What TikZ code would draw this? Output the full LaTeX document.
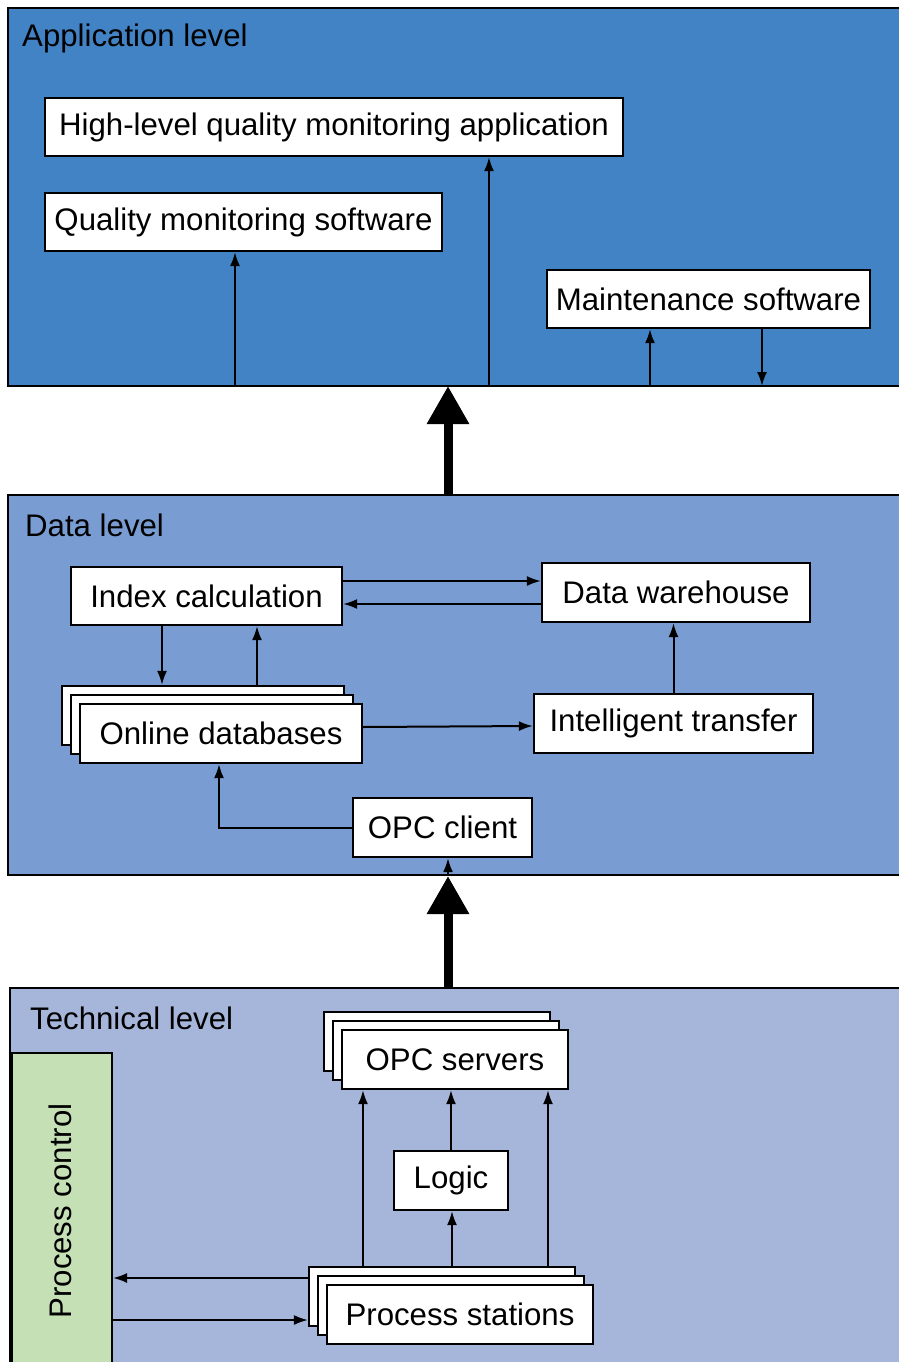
\documentclass[tikz,border=0pt]{standalone}
\usepackage{fontspec}
\setmainfont{Liberation Sans}
\usetikzlibrary{arrows.meta}
\definecolor{appblue}{HTML}{4283C5}
\definecolor{datablue}{HTML}{799DD3}
\definecolor{techblue}{HTML}{A6B6DA}
\definecolor{ctrlgreen}{HTML}{C5E0B4}
\begin{document}
\begin{tikzpicture}[x=1pt,y=-1pt,
  txt/.style={font=\fontsize{31.2}{37}\selectfont},
  box/.style={draw, line width=2.2pt, fill=white, inner sep=0pt, txt},
  panel/.style={draw, line width=2pt},
  lvl/.style={anchor=base west, inner sep=0pt, txt},
  conn/.style={line width=2pt, -{Latex[length=14pt,width=10pt]}},
  bigarrow/.style={line width=9pt, -{Triangle[length=38pt,width=40pt]}}
]
\useasboundingbox (0,0) rectangle (899,1362);

% ---------------- panels ----------------
\draw[panel, fill=appblue]  (8,8)    rectangle (915,386);
\draw[panel, fill=datablue] (8,495)  rectangle (915,875);
\draw[panel, fill=techblue] (10,988) rectangle (915,1380);

\node[lvl] (lapp)  at (22,47)   {Application level};
\node[lvl] (ldata) at (25,536)  {Data level};
\node[lvl] (ltech) at (30,1029) {Technical level};

% ---------------- application level ----------------
\node[box, minimum width=578, minimum height=58] (hl) at (334,127) {High-level quality monitoring application};
\node[box, minimum width=397, minimum height=58] (qm) at (243.5,222) {Quality monitoring software};
\node[box, minimum width=323, minimum height=58] (ms) at (708.5,299) {Maintenance software};

\coordinate (pa1) at (235,386);
\coordinate (pa2) at (489,386);
\coordinate (pa3) at (650,386);
\coordinate (pa4) at (762,386);
\draw[conn] (pa1) -- (pa1 |- qm.south);
\draw[conn] (pa2) -- (pa2 |- hl.south);
\draw[conn] (pa3) -- (pa3 |- ms.south);
\draw[conn] (pa4 |- ms.south) -- (pa4);

% ---------------- data level ----------------
\node[box, minimum width=271, minimum height=58] (ic) at (206.5,596) {Index calculation};
\node[box, minimum width=268, minimum height=59] (dw) at (676,592.5) {Data warehouse};
\node[box, minimum width=282, minimum height=59] (odb3) at (203,715.5) {};
\node[box, minimum width=282, minimum height=59] (odb2) at (212,724.5) {};
\node[box, minimum width=282, minimum height=59] (odb)  at (221,733.5) {Online databases};
\node[box, minimum width=279, minimum height=59] (it) at (673.5,723.5) {Intelligent transfer};
\node[box, minimum width=179, minimum height=59] (opcc) at (442.5,827.5) {OPC client};

\draw[conn] ([yshift=15pt]ic.east) -- ([yshift=15pt]ic.east -| dw.west);
\draw[conn] ([yshift=-11.5pt]dw.west) -- ([yshift=-11.5pt]dw.west -| ic.east);
\draw[conn] ([xshift=-44.5pt]ic.south) -- ([xshift=-44.5pt]ic.south |- odb3.north);
\draw[conn] ([xshift=50.5pt]ic.south |- odb3.north) -- ([xshift=50.5pt]ic.south);
\draw[conn] ([yshift=6.5pt]odb.east) -- ([yshift=-2.5pt]it.west);
\draw[conn] (it.north) -- (it.north |- dw.south);
\draw[conn] (opcc.west) -| ([xshift=-2pt]odb.south);
\coordinate (pb) at (448,875);
\draw[conn] (pb) -- (pb |- opcc.south);

% ---------------- technical level ----------------
\node[draw, line width=2pt, fill=ctrlgreen, minimum width=100, minimum height=327, inner sep=0pt] (pc) at (62,1216.5) {};
\node[txt, rotate=90, inner sep=0pt] (pctext) at (60,1211) {Process control};

\node[box, minimum width=226, minimum height=59] (opcs3) at (437,1041.5) {};
\node[box, minimum width=226, minimum height=59] (opcs2) at (446,1050.5) {};
\node[box, minimum width=226, minimum height=59] (opcs)  at (455,1059.5) {OPC servers};
\node[box, minimum width=114, minimum height=59] (logic) at (451,1180.5) {Logic};
\node[box, minimum width=266, minimum height=59] (ps3) at (442,1296.5) {};
\node[box, minimum width=266, minimum height=59] (ps2) at (451,1305.5) {};
\node[box, minimum width=266, minimum height=59] (ps)  at (460,1314.5) {Process stations};

\draw[conn] ([xshift=-79pt]ps3.north) -- ([xshift=-79pt]ps3.north |- opcs.south);
\draw[conn] ([xshift=106pt]ps3.north) -- ([xshift=106pt]ps3.north |- opcs.south);
\draw[conn] (logic.north) -- (logic.north |- opcs.south);
\draw[conn] ([xshift=10pt]ps3.north) -- ([xshift=10pt]ps3.north |- logic.south);
\draw[conn] ([yshift=18.5pt]ps3.west) -- ([yshift=18.5pt]ps3.west -| pc.east);
\draw[conn] ([yshift=-23.5pt]ps3.west -| pc.east) -- ([yshift=-23.5pt]ps3.west);

% ---------------- level-to-level arrows ----------------
\coordinate (ba1) at (448,495);
\coordinate (ba1t) at (448,386);
\coordinate (ba2) at (448,988);
\coordinate (ba2t) at (448,876);
\draw[bigarrow] (ba1) -- (ba1t);
\draw[bigarrow] (ba2) -- (ba2t);
\end{tikzpicture}
\end{document}
